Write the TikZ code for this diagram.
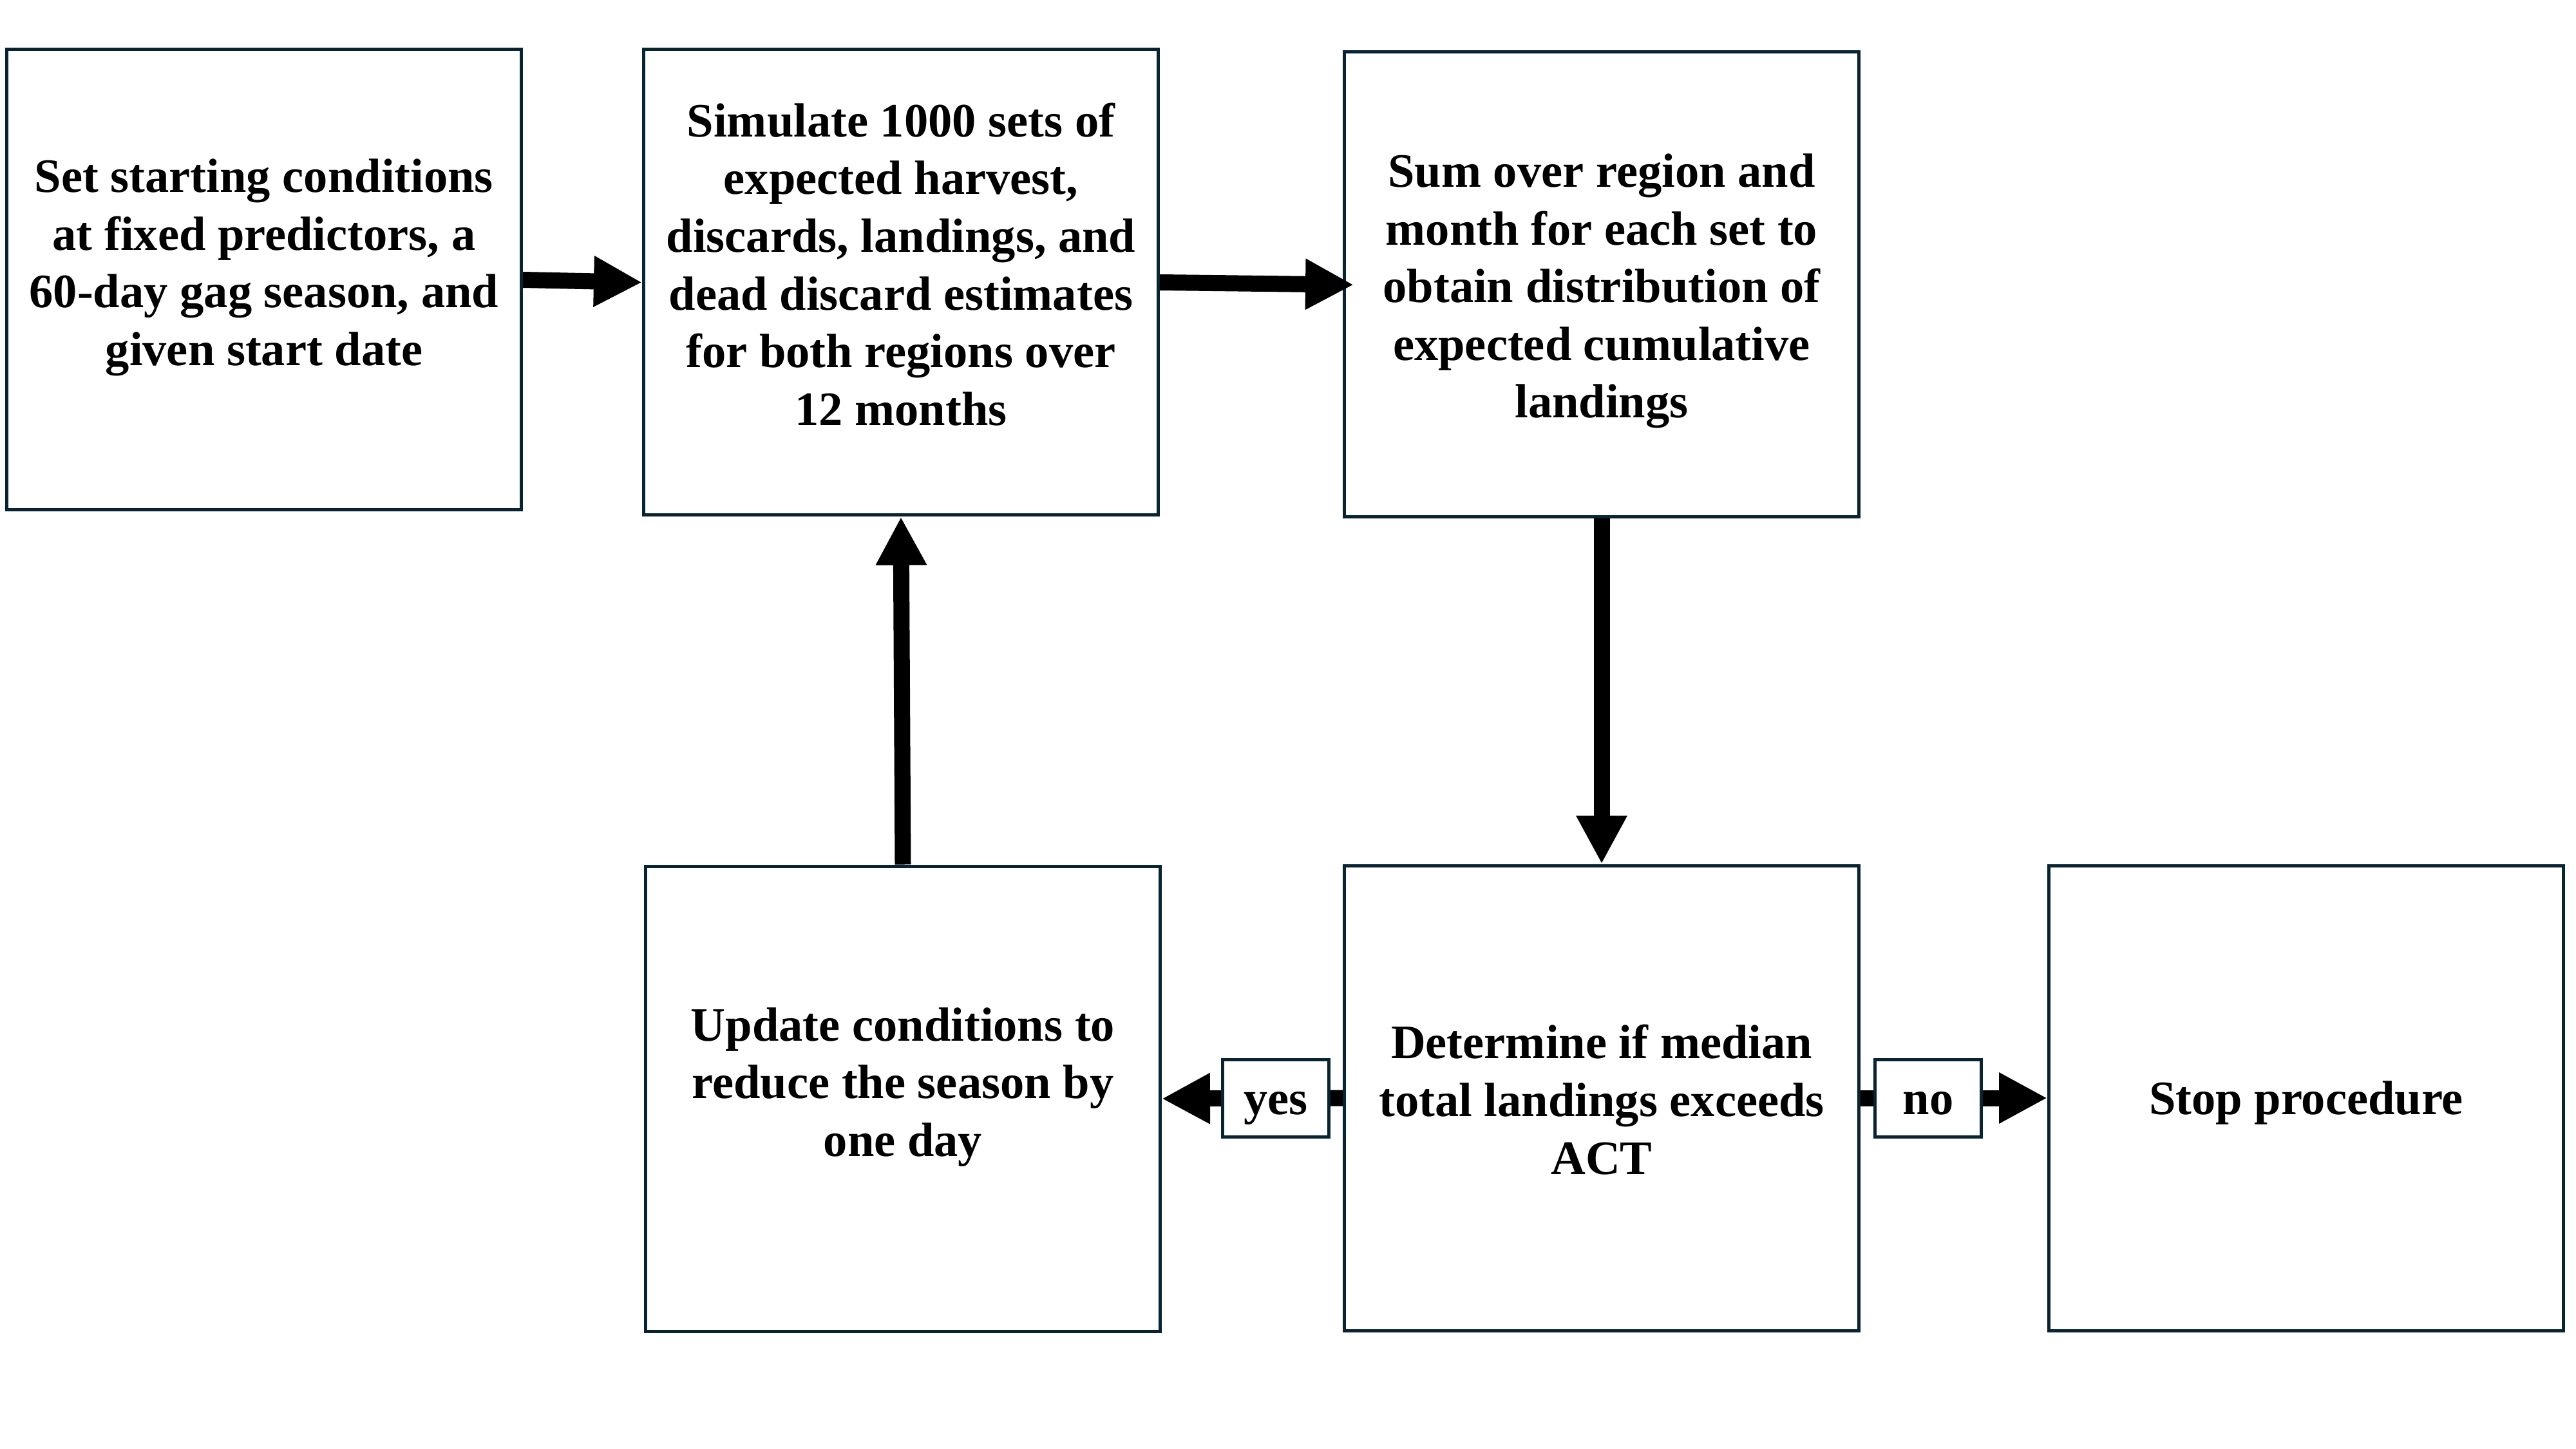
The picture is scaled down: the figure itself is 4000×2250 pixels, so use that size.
\documentclass[tikz,border=0pt]{standalone}
\usepackage{fontspec}
\setmainfont{Liberation Serif}
\usetikzlibrary{arrows.meta}
\definecolor{navy}{RGB}{8,35,50}
\begin{document}
\begin{tikzpicture}[x=0.1mm,y=-0.1mm,
  box/.style={draw=navy, line width=0.5mm, minimum width=79.9mm, minimum height=72.2mm, inner sep=0pt, fill=white},
  txt/.style={align=center, font=\fontsize{21.2pt}{25.5pt}\selectfont\bfseries, inner sep=0pt},
  one/.style={font=\fontsize{21.2pt}{25.5pt}\selectfont\bfseries, text height=18.9pt, text depth=4.6pt},
  lab/.style={one, draw=navy, line width=0.5mm, fill=white, minimum width=16.5mm, minimum height=12mm, inner sep=0pt},
  arr/.style={draw=black, line width=2.5mm, -{Triangle[length=7.5mm, width=7.4mm]}}]
\fill[white] (0,0) rectangle (4000,2250);
\useasboundingbox (0,0) rectangle (4000,2250);

\node[box, minimum height=71.5mm] (b1) at (410,434.5) {};
\node[box, minimum height=72.3mm] (b2) at (1399,438.5) {};
\node[box] (b3) at (2487,442) {};
\node[box] (b4) at (1402,1706) {};
\node[box] (b5) at (2487,1705) {};
\node[box] (b6) at (3581,1705) {};

\node[txt] (t1) at ([yshift=1.9mm]b1.center) {Set starting conditions\\at fixed predictors, a\\60-day gag season, and\\given start date};
\node[txt] (t2) at ([yshift=2.8mm]b2.center) {Simulate 1000 sets of\\expected harvest,\\discards, landings, and\\dead discard estimates\\for both regions over\\12 months};
\node[txt] (t3) at ([yshift=-1mm]b3.center) {Sum over region and\\month for each set to\\obtain distribution of\\expected cumulative\\landings};
\node[txt] (t4) at ([yshift=1.8mm]b4.center) {Update conditions to\\reduce the season by\\one day};
\node[txt] (t5) at ([yshift=-0.25mm]b5.center) {Determine if median\\total landings exceeds\\ACT};
\node[one, inner sep=0pt] (t6) at (b6.center) {Stop procedure};

\draw[arr] (b1.east) -- (b2.west);
\draw[arr, shorten >=-1.7mm] (b2.east) -- (b3.west);
\draw[arr] (b3.south) -- (b5.north);
\draw[arr] (b4.north) -- (b2.south);
\draw[arr] (b5.west) -- node[lab, pos=0.37] (yes) {yes} (b4.east);
\draw[arr] (b5.east) -- node[lab, pos=0.363] (no) {no} (b6.west);
\end{tikzpicture}
\end{document}
